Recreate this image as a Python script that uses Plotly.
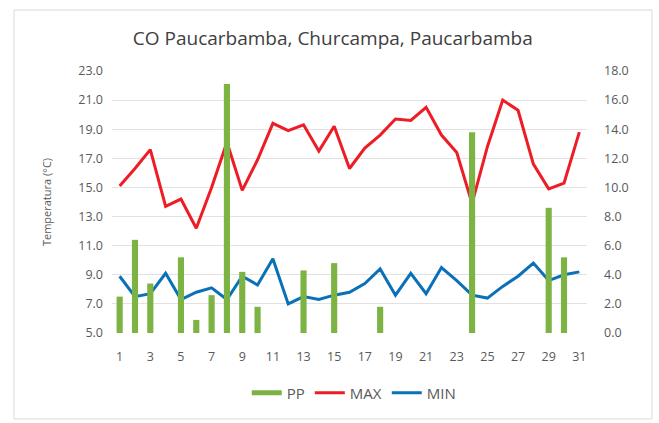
import plotly.graph_objects as go

# daily data
days = list(range(1, 32))
t_max = [15.1, 16.3, 17.6, 13.7, 14.2, 12.2, 15.0, 18.1, 14.8, 16.9,
         19.4, 18.9, 19.3, 17.5, 19.2, 16.3, 17.7, 18.6, 19.7, 19.6,
         20.5, 18.6, 17.4, 13.9, 17.8, 21.0, 20.3, 16.6, 14.9, 15.3, 18.8]
t_min = [8.9, 7.5, 7.7, 9.1, 7.3, 7.8, 8.1, 7.3, 8.9, 8.3,
         10.1, 7.0, 7.5, 7.3, 7.6, 7.8, 8.4, 9.4, 7.6, 9.1,
         7.7, 9.5, 8.6, 7.6, 7.4, 8.2, 8.9, 9.8, 8.6, 9.0, 9.2]
pp = [2.5, 6.4, 3.4, 0, 5.2, 0.9, 2.6, 17.1, 4.2, 1.8,
      0, 0, 4.3, 0, 4.8, 0, 0, 1.8, 0, 0,
      0, 0, 0, 13.8, 0, 0, 0, 0, 8.6, 5.2, 0]

left_ticks = [5, 7, 9, 11, 13, 15, 17, 19, 21, 23]
right_ticks = [0, 2, 4, 6, 8, 10, 12, 14, 16, 18]
x_ticks = list(range(1, 32, 2))

font = "Open Sans, sans-serif"
grey = "#595959"
green = "#7cb342"

L, R, T, B = 112, 72, 71, 90
pw, ph = 659 - L - R, 423 - T - B

fig = go.Figure()
fig.add_trace(go.Bar(x=days, y=pp, name="PP", yaxis="y2", width=0.4,
                     marker=dict(color=green, line=dict(width=0)), showlegend=False))
# legend swatch for PP drawn as a line, like the original
fig.add_trace(go.Scatter(x=[None], y=[None], name="PP", mode="lines",
                         line=dict(color=green, width=5)))
fig.add_trace(go.Scatter(x=days, y=t_max, name="MAX", mode="lines",
                         line=dict(color="#ee1c25", width=3)))
fig.add_trace(go.Scatter(x=days, y=t_min, name="MIN", mode="lines",
                         line=dict(color="#0a70b8", width=3)))

fig.update_layout(
    width=659, height=423,
    margin=dict(l=L, r=R, t=T, b=B),
    paper_bgcolor="white", plot_bgcolor="white",
    font=dict(family=font, size=12.5, color=grey),
    title=dict(text="CO Paucarbamba, Churcampa, Paucarbamba", x=0.505, xanchor="center",
               y=1 - 38 / 423, yanchor="middle", font=dict(size=19, color="#404040")),
    xaxis=dict(range=[0.5, 31.5], tickvals=x_ticks, showgrid=False, zeroline=False,
               showline=False, ticks="", ticklabelstandoff=14),
    yaxis=dict(range=[5, 23], tickvals=left_ticks, tickformat=".1f",
               gridcolor="#e2e2e2", gridwidth=1, zeroline=False, ticklabelstandoff=8,
               title=dict(text="Temperatura (°C)", font=dict(size=11, color=grey), standoff=24)),
    yaxis2=dict(range=[0, 18], tickvals=right_ticks, tickformat=".1f", overlaying="y",
                side="right", showgrid=False, zeroline=False, ticklabelstandoff=16),
    legend=dict(orientation="h", x=0.51, xanchor="center", y=(T + ph - 393) / ph, yanchor="middle",
                font=dict(size=15), itemwidth=30, traceorder="normal"),
    showlegend=True,
    shapes=[dict(type="rect", xref="paper", yref="paper",
                 x0=(14 - L) / pw, x1=(652 - L) / pw,
                 y0=(T + ph - 419) / ph, y1=(T + ph - 10) / ph,
                 line=dict(color="#d9d9d9", width=1), layer="below")],
)

# drop the default page margin so the chart sits at the window's corner
fig.write_html("out.html", config={"displayModeBar": False},
               post_script="document.body.style.margin='0';")
